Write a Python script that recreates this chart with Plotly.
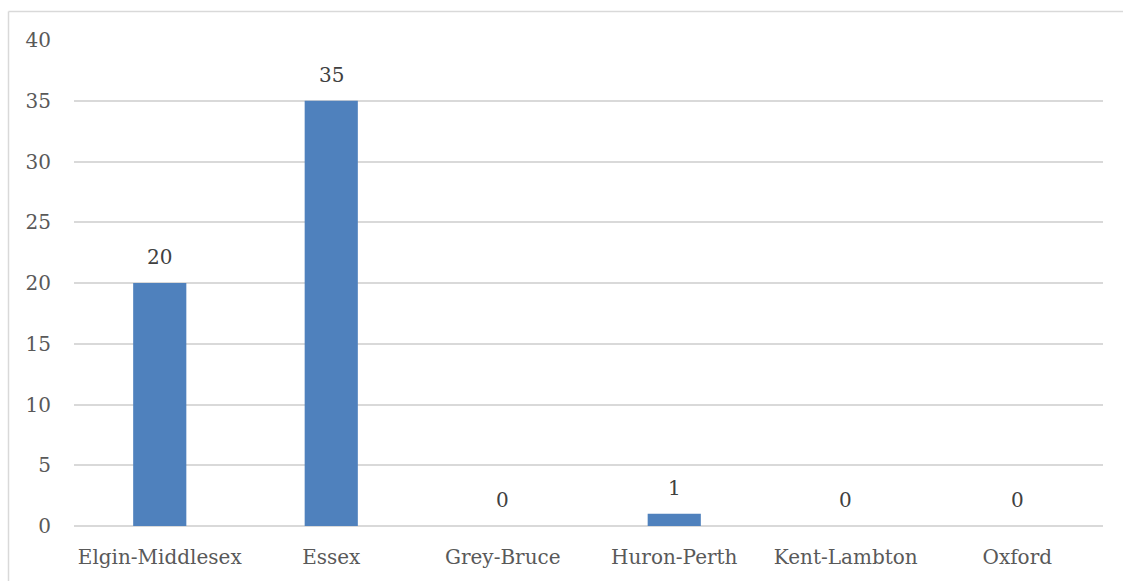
import plotly.graph_objects as go

categories = ["Elgin-Middlesex", "Essex", "Grey-Bruce", "Huron-Perth", "Kent-Lambton", "Oxford"]
values = [20, 35, 0, 1, 0, 0]
y_ticks = [0, 5, 10, 15, 20, 25, 30, 35, 40]

FONT = "DejaVu Serif"
FS = 20

fig = go.Figure()
fig.add_trace(go.Bar(
    x=categories, y=values,
    marker=dict(color="#4F81BD", line=dict(width=0)),
    hoverinfo="x+y",
))

for c, v in zip(categories, values):
    fig.add_annotation(x=c, y=v, text=str(v), showarrow=False,
                       yanchor="bottom", yshift=12,
                       font=dict(family=FONT, size=FS, color="#404040"))

border = dict(color="#D9D9D9", width=1.5)
x_left = -65.5 / 1029
y_top = 1 + 28.5 / 486

fig.update_layout(
    width=1123, height=581,
    margin=dict(l=74, r=20, t=40, b=55),
    paper_bgcolor="white", plot_bgcolor="white",
    bargap=0.69,
    showlegend=False,
    font=dict(family=FONT, size=FS, color="#595959"),
    xaxis=dict(showgrid=False, showline=False, ticks="", ticklabelstandoff=17, automargin=False),
    yaxis=dict(range=[0, 40], tickvals=y_ticks, showgrid=True, gridcolor="#D9D9D9",
               gridwidth=1.5, zeroline=True, zerolinecolor="#D9D9D9", zerolinewidth=1.5,
               showline=False, ticks="", ticklabelstandoff=22, automargin=False),
    shapes=[
        dict(type="line", xref="paper", yref="paper", x0=x_left, x1=x_left, y0=-0.3, y1=y_top,
             line=border, layer="below"),
        dict(type="line", xref="paper", yref="paper", x0=x_left, x1=1.3, y0=y_top, y1=y_top,
             line=border, layer="below"),
    ],
)

fig.write_html(
    "out.html",
    config={"displayModeBar": False},
    post_script="document.body.style.margin='0';document.body.style.overflow='hidden';",
)
